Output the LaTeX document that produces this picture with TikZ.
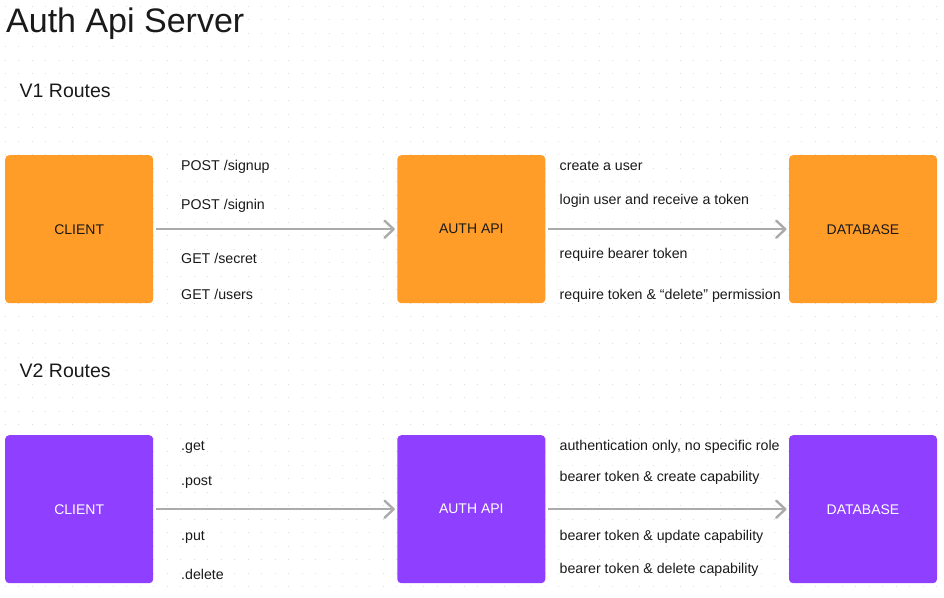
\documentclass[tikz,border=0pt]{standalone}
\usepackage{fontspec}
\setmainfont{Liberation Sans}
\usetikzlibrary{arrows.meta}
\definecolor{orng}{HTML}{FF9D28}
\definecolor{purp}{HTML}{8F3FFF}
\definecolor{ink}{HTML}{1A1A1A}
\definecolor{arr}{HTML}{ABABAB}
\definecolor{dotc}{HTML}{DCDCDC}
\tikzset{
  box/.style={rectangle, rounded corners=4pt, minimum width=148pt, minimum height=148pt, inner sep=0pt, font=\fontsize{14}{16}\selectfont},
  obox/.style={box, fill=orng, text=ink},
  pbox/.style={box, fill=purp, text=white},
  lbl/.style={anchor=base west, inner sep=0pt, text=ink, font=\fontsize{14.2}{16}\selectfont},
  conn/.style={draw=arr, line width=2.4pt, -{Straight Barb[length=9pt,width=17pt,line cap=round,line join=round]}, shorten <=2.7pt, shorten >=2.3pt},
  heading/.style={anchor=base west, inner sep=0pt, text=ink}
}
\begin{document}
\begin{tikzpicture}[x=1pt,y=-1pt]
\useasboundingbox[fill=white] (0,0) rectangle (944,597);
% dotted grid
\foreach \i in {0,...,69}{
  \foreach \j in {0,...,43}{
    \fill[dotc] ({5+13.5*\i-0.5},{6+13.5*\j-0.5}) rectangle ++(1,1);
  }
}
% headings
\node[heading, font=\fontsize{34}{40}\selectfont] (title) at (6,32) {Auth Api Server};
\node[heading, font=\fontsize{19.5}{23}\selectfont] (v1) at (19.5,97.3) {V1 Routes};
\node[heading, font=\fontsize{19.5}{23}\selectfont] (v2) at (19.5,377.3) {V2 Routes};
% V1 boxes
\node[obox] (c1) at (79.2,229.2) {CLIENT};
\node[obox] (a1) at (471.3,229.2) {AUTH API};
\node[obox] (d1) at (863,229.2) {DATABASE};
% V2 boxes
\node[pbox] (c2) at (79.2,509.2) {CLIENT};
\node[pbox] (a2) at (471.3,509.2) {AUTH API};
\node[pbox] (d2) at (863,509.2) {DATABASE};
% connectors
\draw[conn] (c1.east) -- (a1.west);
\draw[conn] (a1.east) -- (d1.west);
\draw[conn] (c2.east) -- (a2.west);
\draw[conn] (a2.east) -- (d2.west);
% V1 labels left
\node[lbl] (l11) at (181,170.7) {POST /signup};
\node[lbl] (l12) at (181,209.3) {POST /signin};
\node[lbl] (l13) at (181,263.3) {GET /secret};
\node[lbl] (l14) at (181,299) {GET /users};
% V1 labels right
\node[lbl] (r11) at (559.5,170.7) {create a user};
\node[lbl] (r12) at (559.5,204.3) {login user and receive a token};
\node[lbl] (r13) at (559.5,258.3) {require bearer token};
\node[lbl] (r14) at (559.5,299) {require token \& “delete” permission};
% V2 labels left
\node[lbl] (l21) at (181,450.7) {.get};
\node[lbl] (l22) at (181,485.7) {.post};
\node[lbl] (l23) at (181,540) {.put};
\node[lbl] (l24) at (181,579) {.delete};
% V2 labels right
\node[lbl] (r21) at (559.5,450.7) {authentication only, no specific role};
\node[lbl] (r22) at (559.5,481) {bearer token \& create capability};
\node[lbl] (r23) at (559.5,540) {bearer token \& update capability};
\node[lbl] (r24) at (559.5,573.3) {bearer token \& delete capability};
\end{tikzpicture}
\end{document}
